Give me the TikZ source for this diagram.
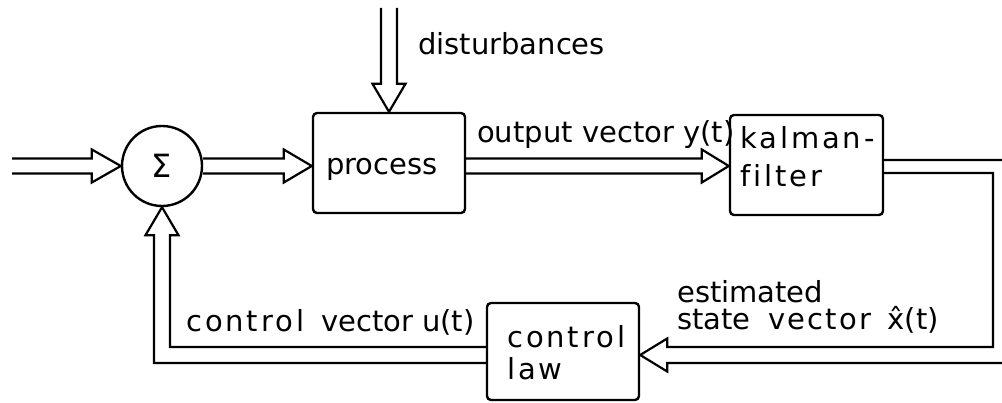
\documentclass[tikz,border=0pt]{standalone}
\usepackage{fontspec}
\setmainfont{DejaVu Sans}
\usetikzlibrary{calc}
\newcommand{\spaced}[1]{{\addfontfeature{LetterSpace=10,Ligatures=NoCommon}#1}}
\begin{document}
\begin{tikzpicture}[x=1pt,y=-1pt,
  block/.style={draw, line width=2.4pt, rounded corners=4pt,
    minimum width=152pt, minimum height=100pt, inner sep=0pt},
  lbl/.style={anchor=base west, inner sep=0pt, font=\fontsize{29}{34}\selectfont},
  flow/.style={line width=2.2pt, line join=miter},
]
\useasboundingbox (0,0) rectangle (1002,403);
\clip (0,0) rectangle (1002,403);

% blocks
\node[circle, draw, line width=2.4pt, minimum size=80pt, inner sep=0pt,
  font=\fontsize{32}{36}\selectfont] (sum) at (162,166) {Σ};
\node[block] (process) at (389,163) {};
\node[block, minimum width=153pt] (kalman) at (806.5,165) {};
\node[block, minimum height=97pt] (law) at (563,351.5) {};

% block texts
\node[lbl] (ptext) at (326,175) {process};
\node[lbl] (ktext1) at (740,149) {\spaced{kalman-}};
\node[lbl] (ktext2) at (740,187) {\spaced{f\kern2.9pt ilter}};
\node[lbl] (ltext1) at (507,348) {\spaced{control}};
\node[lbl] (ltext2) at (507,380) {\spaced{law}};

% signal labels
\node[lbl] (dlabel) at (418,55) {disturbances};
\node[lbl] (ylabel) at (477,143) {output vector y(t)};
\node[lbl] (ulabel) at (186,332) {\spaced{control}\hspace{0.6em}vector\hspace{0.3em}u(t)};
\node[lbl] (xlabel1) at (677,303) {estimated};
\node[lbl] (xlabel2) at (677,330) {state\hspace{0.6em}{\addfontfeature{LetterSpace=8}vector}\hspace{0.55em}\^x(t)};

% free ends and loop corners
\coordinate (src) at (12,166);
\coordinate (dsrc) at (389,8);
\coordinate (corner) at (1001,355);

% reference input -> summing point
\draw[flow] ($(src)+(0,-7.5)$) -- ($(sum.west)+(-29,-7.5)$) -- ++(0,-9)
  -- (sum.west) -- ($(sum.west)+(-29,16.5)$) -- ++(0,-9) -- ($(src)+(0,7.5)$);

% summing point -> process
\draw[flow] ($(sum.east)+(0,-7.5)$) -- ($(process.west|-sum)+(-28,-7.5)$) -- ++(0,-9)
  -- (process.west|-sum) -- ($(process.west|-sum)+(-28,16.5)$) -- ++(0,-9)
  -- ($(sum.east)+(0,7.5)$);

% disturbances -> process
\draw[flow] ($(dsrc)+(-8,0)$) -- ($(process.north)+(-8,-28)$) -- ++(-8.5,0)
  -- (process.north) -- ($(process.north)+(16.5,-28)$) -- ++(-8.5,0)
  -- ($(dsrc)+(8,0)$);

% process -> kalman filter
\draw[flow] ($(process.east|-sum)+(0,-7.5)$) -- ($(kalman.west|-sum)+(-27,-7.5)$) -- ++(0,-9)
  -- (kalman.west|-sum) -- ($(kalman.west|-sum)+(-27,16.5)$) -- ++(0,-9)
  -- ($(process.east|-sum)+(0,7.5)$);

% kalman filter -> control law
\draw[flow] ($(kalman.east|-sum)+(0,-6)$) -- ($(corner|-sum)+(8,-6)$)
  -- ($(corner)+(8,8)$) -- ($(law.east|-corner)+(27,8)$) -- ++(0,8.5)
  -- (law.east|-corner) -- ($(law.east|-corner)+(27,-16.5)$) -- ++(0,8.5)
  -- ($(corner)+(-8,-8)$) -- ($(corner|-sum)+(-8,7)$) -- ($(kalman.east|-sum)+(0,7)$);

% control law -> summing point
\draw[flow] ($(law.west|-corner)+(0,-8)$) -- ($(sum|-corner)+(8,-8)$)
  -- ($(sum.south)+(8,28)$) -- ++(8.5,0) -- (sum.south)
  -- ($(sum.south)+(-16.5,28)$) -- ++(8.5,0) -- ($(sum|-corner)+(-8,8)$)
  -- ($(law.west|-corner)+(0,8)$);
\end{tikzpicture}
\end{document}
